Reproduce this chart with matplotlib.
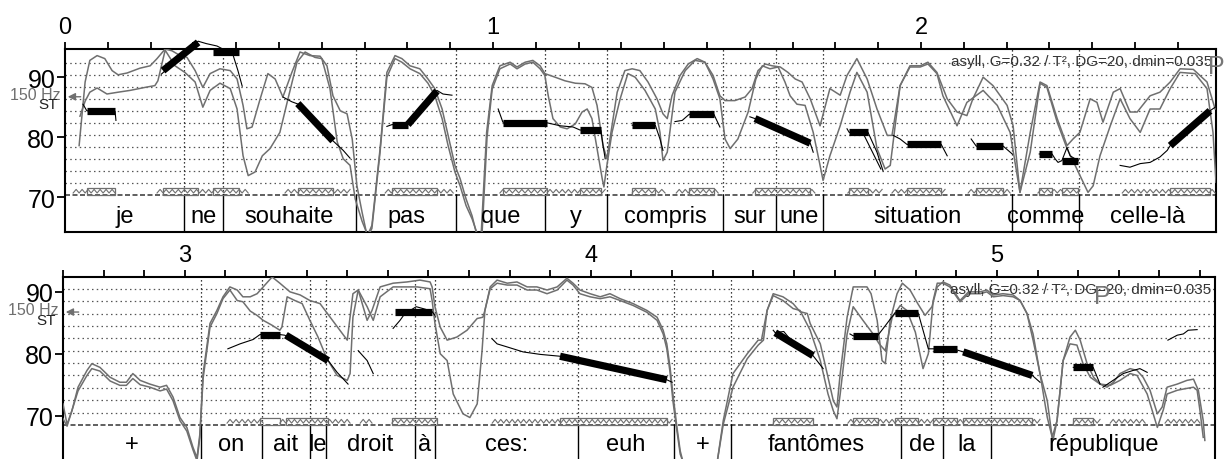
import numpy as np
import matplotlib
matplotlib.use("Agg")
import matplotlib.pyplot as plt
import matplotlib.transforms as mtransforms
from matplotlib.patches import Rectangle
from matplotlib.ticker import MultipleLocator

plt.rcParams["font.family"] = ["Liberation Sans", "DejaVu Sans"]

HZ150_ST = 86.74
INFO = "asyll, G=0.32 / T², DG=20, dmin=0.035"

# ---------------- panel 1 (0 - 2.69 s) ----------------
P1_XLIM = (0.0, 2.689)
P1_YLIM = (64.2, 94.7)
P1_YLOW = 70.4
P1_BOUNDS = [0.0, 0.278, 0.369, 0.680, 0.914, 1.121, 1.266, 1.537, 1.661,
             1.771, 2.213, 2.369, 2.689]
P1_WORDS = ["je", "ne", "souhaite", "pas", "que", "y", "compris", "sur",
            "une", "situation", "comme", "celle-là"]

P1_INT_A = [
    (0.033, 78.6), (0.047, 89.2), (0.058, 92.8), (0.075, 93.6), (0.093, 93.1),
    (0.110, 91.1), (0.124, 90.4), (0.145, 90.7), (0.175, 91.5), (0.199, 91.9),
    (0.215, 93.1), (0.234, 94.7), (0.250, 94.4), (0.269, 93.6), (0.285, 93.3),
    (0.304, 91.1), (0.322, 88.3), (0.339, 90.6), (0.362, 91.4), (0.386, 91.1),
    (0.402, 89.7), (0.416, 85.3), (0.425, 81.4), (0.437, 81.7), (0.456, 86.4),
    (0.474, 90.6), (0.491, 89.7), (0.509, 86.7), (0.530, 90.8), (0.549, 94.2),
    (0.572, 93.6), (0.596, 93.5), (0.612, 91.9), (0.626, 86.9), (0.643, 84.4),
    (0.659, 83.9), (0.671, 79.7), (0.682, 71.9), (0.694, 67.5), (0.706, 63.5),
    (0.717, 65.3), (0.736, 78.0), (0.752, 90.8), (0.771, 93.6), (0.787, 93.1),
    (0.806, 91.9), (0.829, 91.4), (0.848, 89.7), (0.864, 88.1), (0.881, 84.7),
    (0.895, 80.3), (0.911, 75.3), (0.923, 73.1), (0.937, 69.7), (0.951, 66.9),
    (0.963, 63.5), (0.972, 63.5), (0.985, 80.8), (0.998, 88.6), (1.016, 91.9),
    (1.040, 92.5), (1.056, 91.7), (1.075, 92.5), (1.093, 92.8), (1.110, 91.9),
    (1.121, 90.6), (1.145, 90.0), (1.168, 89.4), (1.192, 89.0), (1.215, 88.9),
    (1.231, 88.3), (1.243, 85.3), (1.257, 78.6), (1.266, 76.4), (1.278, 81.9),
    (1.290, 87.5), (1.308, 91.1), (1.325, 91.4), (1.343, 91.1), (1.362, 89.2),
    (1.383, 86.4), (1.397, 83.9), (1.407, 83.1), (1.418, 86.9), (1.437, 90.3),
    (1.456, 92.2), (1.477, 93.1), (1.495, 92.5), (1.514, 90.3), (1.530, 86.9),
    (1.542, 86.1), (1.565, 86.1), (1.589, 86.7), (1.605, 88.1), (1.619, 91.1),
    (1.636, 92.2), (1.652, 91.9), (1.671, 91.7), (1.689, 90.8), (1.706, 89.7),
    (1.722, 89.2), (1.741, 86.4), (1.764, 81.9), (1.787, 88.1), (1.811, 87.0),
    (1.827, 90.3), (1.850, 93.1), (1.874, 89.7), (1.897, 84.7), (1.921, 80.3),
    (1.932, 80.3), (1.951, 88.6), (1.974, 91.9), (1.998, 91.9), (2.016, 92.5),
    (2.037, 90.8), (2.061, 86.4), (2.084, 84.2), (2.107, 83.6), (2.121, 86.4),
    (2.145, 90.0), (2.168, 88.6), (2.201, 85.3), (2.215, 81.9), (2.231, 70.8),
    (2.255, 80.8), (2.278, 89.2), (2.294, 88.6), (2.318, 83.1), (2.341, 78.6),
    (2.355, 79.7), (2.371, 80.8), (2.395, 86.4), (2.411, 85.8), (2.425, 82.5),
    (2.449, 87.5), (2.465, 88.1), (2.488, 84.2), (2.505, 84.2), (2.535, 86.9),
    (2.558, 87.5), (2.582, 89.2), (2.605, 91.4), (2.636, 91.3), (2.668, 89.2),
    (2.687, 84.7),
]
P1_INT_B = [
    (0.035, 83.5), (0.047, 86.0), (0.058, 87.5), (0.075, 88.2), (0.098, 87.2),
    (0.124, 87.5), (0.152, 87.8), (0.187, 88.3), (0.210, 88.6), (0.217, 89.4),
    (0.234, 94.5), (0.257, 91.9), (0.280, 90.8), (0.304, 89.2), (0.322, 85.0),
    (0.339, 87.8), (0.362, 89.0), (0.386, 88.1), (0.402, 84.7), (0.416, 76.9),
    (0.428, 73.6), (0.444, 74.2), (0.461, 76.9), (0.479, 78.1), (0.502, 80.8),
    (0.521, 86.4), (0.542, 92.5), (0.561, 94.2), (0.584, 93.3), (0.600, 93.1),
    (0.619, 88.1), (0.636, 79.2), (0.650, 76.4), (0.666, 75.3), (0.678, 69.7),
    (0.694, 66.0), (0.708, 63.5), (0.717, 64.8), (0.736, 77.5), (0.752, 90.0),
    (0.771, 93.1), (0.787, 92.5), (0.806, 91.4), (0.829, 90.6), (0.848, 89.0),
    (0.864, 86.9), (0.881, 83.1), (0.895, 78.6), (0.911, 74.2), (0.923, 71.9),
    (0.937, 68.6), (0.951, 66.4), (0.965, 63.5), (0.974, 63.5), (0.986, 80.0),
    (0.998, 88.0), (1.016, 91.4), (1.040, 92.2), (1.056, 91.4), (1.075, 92.2),
    (1.093, 92.5), (1.110, 91.4), (1.121, 90.3), (1.129, 86.9), (1.140, 83.1),
    (1.157, 81.7), (1.173, 81.4), (1.192, 82.2), (1.208, 84.2), (1.220, 84.7),
    (1.231, 83.1), (1.243, 78.1), (1.255, 73.1), (1.259, 71.7), (1.266, 75.3),
    (1.278, 80.8), (1.297, 86.4), (1.315, 90.6), (1.332, 90.0), (1.355, 87.8),
    (1.379, 84.7), (1.390, 80.8), (1.397, 76.1), (1.407, 77.5), (1.425, 87.5),
    (1.449, 91.1), (1.472, 92.8), (1.495, 92.5), (1.514, 89.7), (1.530, 86.4),
    (1.542, 79.7), (1.554, 78.1), (1.572, 79.7), (1.596, 84.2), (1.614, 89.7),
    (1.629, 91.9), (1.647, 91.4), (1.666, 91.7), (1.682, 89.2), (1.694, 86.9),
    (1.710, 85.5), (1.729, 85.3), (1.748, 80.8), (1.764, 75.3), (1.771, 72.8),
    (1.787, 76.9), (1.811, 81.9), (1.834, 87.5), (1.850, 90.8), (1.874, 87.5),
    (1.897, 78.1), (1.916, 74.7), (1.928, 75.3), (1.951, 88.6), (1.974, 91.7),
    (1.998, 91.7), (2.016, 92.2), (2.037, 90.6), (2.051, 86.9), (2.084, 81.9),
    (2.107, 85.8), (2.145, 87.8), (2.178, 85.3), (2.208, 80.8), (2.231, 70.8),
    (2.255, 77.5), (2.278, 89.0), (2.294, 88.3), (2.318, 82.5), (2.341, 78.1),
    (2.364, 74.7), (2.390, 70.8), (2.402, 71.9), (2.418, 76.9), (2.442, 81.9),
    (2.465, 86.4), (2.488, 83.1), (2.512, 80.8), (2.535, 84.7), (2.558, 84.7),
    (2.582, 88.1), (2.605, 90.8), (2.640, 90.6), (2.668, 88.1), (2.682, 80.8),
    (2.689, 72.5),
]
P1_PITCH = [
    [(0.042, 85.5), (0.051, 84.4), (0.117, 84.3), (0.119, 82.8)],
    [(0.225, 90.5), (0.311, 96.0), (0.330, 95.6), (0.355, 95.2), (0.374, 94.5),
     (0.393, 93.6), (0.404, 91.1), (0.414, 88.5)],
    [(0.509, 86.7), (0.530, 85.9), (0.549, 85.4), (0.626, 79.4), (0.650, 77.8),
     (0.666, 76.5)],
    [(0.752, 81.8), (0.764, 82.1), (0.801, 82.1), (0.869, 87.8), (0.883, 87.2),
     (0.904, 87.0)],
    [(1.012, 84.7), (1.023, 82.5), (1.126, 82.4), (1.157, 81.9), (1.187, 81.7),
     (1.203, 81.2), (1.252, 81.1), (1.257, 78.6), (1.262, 76.4)],
    [(1.325, 82.0), (1.379, 82.0), (1.390, 79.7), (1.397, 77.8)],
    [(1.425, 82.6), (1.442, 82.8), (1.458, 83.8), (1.516, 83.8), (1.530, 81.7)],
    [(1.600, 83.4), (1.612, 83.1), (1.741, 79.0), (1.748, 77.5)],
    [(1.827, 81.4), (1.832, 80.8), (1.876, 80.8), (1.897, 77.5), (1.911, 74.4)],
    [(1.867, 80.3), (1.906, 74.7)],
    [(1.935, 80.3), (1.951, 79.7), (1.967, 78.8), (2.047, 78.8), (2.061, 76.9)],
    [(2.117, 79.7), (2.129, 78.5), (2.192, 78.5), (2.213, 77.2)],
    [(2.276, 77.2), (2.306, 77.2), (2.313, 76.4), (2.320, 75.8), (2.329, 76.1),
     (2.341, 78.3), (2.348, 76.9), (2.367, 76.1)],
    [(2.465, 75.3), (2.488, 75.0), (2.512, 75.6), (2.535, 75.8), (2.558, 76.7),
     (2.575, 77.8), (2.582, 78.6), (2.675, 84.4), (2.687, 85.0)],
]
# stylized tones: start time, end time, start ST, end ST
P1_TONES = [
    (0.051, 0.117, 84.3, 84.3), (0.229, 0.311, 91.1, 95.8),
    (0.346, 0.407, 94.2, 94.2), (0.544, 0.626, 85.6, 79.4),
    (0.764, 0.801, 82.1, 82.1), (0.801, 0.869, 82.1, 87.7),
    (1.023, 1.126, 82.4, 82.4), (1.203, 1.252, 81.2, 81.2),
    (1.325, 1.379, 82.0, 82.0), (1.458, 1.516, 83.8, 83.8),
    (1.612, 1.741, 83.1, 79.0), (1.832, 1.876, 80.8, 80.8),
    (1.967, 2.047, 78.8, 78.8), (2.129, 2.192, 78.5, 78.5),
    (2.276, 2.306, 77.2, 77.2), (2.329, 2.367, 76.1, 76.1),
    (2.582, 2.675, 78.6, 84.4),
]
P1_VOICED = [
    (0.019, 0.117), (0.215, 0.428), (0.514, 0.666), (0.748, 0.907),
    (1.016, 1.126), (1.126, 1.262), (1.325, 1.402), (1.428, 1.526),
    (1.607, 1.752), (1.829, 1.909), (1.932, 2.056), (2.110, 2.208),
    (2.273, 2.371), (2.470, 2.687),
]
P1_NUCLEI = [
    (0.051, 0.117), (0.229, 0.311), (0.346, 0.407), (0.544, 0.626),
    (0.764, 0.869), (1.023, 1.126), (1.203, 1.252), (1.325, 1.379),
    (1.458, 1.516), (1.612, 1.741), (1.832, 1.876), (1.967, 2.047),
    (2.129, 2.192), (2.276, 2.306), (2.329, 2.367), (2.582, 2.675),
]

# ---------------- panel 2 (2.7 - 5.54 s) ----------------
P2_XLIM = (2.7, 5.537)
P2_YLIM = (63.0, 92.4)
P2_YLOW = 68.5
P2_BOUNDS = [2.700, 3.040, 3.190, 3.308, 3.348, 3.567, 3.616, 3.968, 4.205,
             4.345, 4.764, 4.867, 4.986, 5.537]
P2_WORDS = ["+", "on", "ait", "le", "droit", "à", "ces:", "euh", "+",
            "fantômes", "de", "la", "république"]

P2_INT_A = [
    (2.700, 71.9), (2.710, 68.6), (2.722, 70.8), (2.737, 74.6), (2.759, 77.3),
    (2.771, 78.4), (2.791, 77.8), (2.816, 76.2), (2.840, 75.4), (2.856, 75.4),
    (2.872, 76.8), (2.890, 75.7), (2.914, 75.1), (2.939, 74.6), (2.955, 74.9),
    (2.971, 73.0), (2.988, 69.7), (3.005, 68.1), (3.020, 64.9), (3.030, 63.2),
    (3.037, 67.0), (3.045, 76.8), (3.062, 84.9), (3.079, 87.0), (3.094, 89.2),
    (3.111, 90.8), (3.129, 90.3), (3.143, 89.2), (3.161, 89.2), (3.178, 89.7),
    (3.193, 90.8), (3.215, 92.4), (3.234, 91.4), (3.259, 90.0), (3.284, 89.5),
    (3.308, 88.6), (3.333, 88.1), (3.358, 85.9), (3.382, 83.8), (3.400, 82.2),
    (3.407, 85.9), (3.414, 89.7), (3.427, 90.3), (3.449, 85.4), (3.461, 87.0),
    (3.481, 90.8), (3.513, 91.4), (3.547, 91.6), (3.579, 91.9), (3.604, 91.6),
    (3.609, 90.8), (3.616, 87.6), (3.629, 84.3), (3.646, 82.2), (3.670, 82.7),
    (3.695, 83.8), (3.720, 85.7), (3.734, 85.9), (3.739, 87.0), (3.752, 90.8),
    (3.769, 91.9), (3.794, 91.4), (3.818, 91.6), (3.843, 90.8), (3.867, 90.8),
    (3.892, 90.3), (3.917, 90.8), (3.941, 92.2), (3.956, 91.4), (3.973, 90.3),
    (3.998, 89.7), (4.023, 89.2), (4.047, 89.7), (4.072, 88.9), (4.104, 88.1),
    (4.138, 87.0), (4.163, 85.9), (4.178, 83.8), (4.187, 81.6), (4.195, 77.8),
    (4.202, 73.5), (4.212, 68.1), (4.220, 64.3), (4.227, 62.5), (4.311, 62.5),
    (4.326, 69.2), (4.350, 76.8), (4.385, 80.0), (4.412, 82.2), (4.420, 82.2),
    (4.434, 87.0), (4.449, 89.7), (4.473, 89.2), (4.498, 88.1), (4.515, 86.8),
    (4.533, 86.5), (4.540, 84.9), (4.565, 81.6), (4.584, 76.2), (4.597, 72.4),
    (4.606, 71.4), (4.614, 76.8), (4.631, 85.9), (4.646, 90.8), (4.680, 90.8),
    (4.690, 89.7), (4.705, 85.4), (4.717, 78.9), (4.725, 78.4), (4.737, 85.4),
    (4.754, 89.7), (4.767, 91.4), (4.786, 90.3), (4.805, 88.1), (4.823, 86.2),
    (4.840, 87.6), (4.853, 90.8), (4.867, 91.6), (4.884, 91.1), (4.909, 88.6),
    (4.930, 90.0), (4.959, 90.0), (4.975, 90.3), (4.991, 89.5), (5.015, 89.7),
    (5.040, 89.5), (5.057, 88.6), (5.074, 86.5), (5.089, 82.2), (5.106, 76.8),
    (5.124, 72.4), (5.136, 66.5), (5.148, 69.2), (5.163, 78.9), (5.180, 82.7),
    (5.193, 83.8), (5.205, 82.2), (5.222, 78.4), (5.238, 76.2), (5.254, 75.1),
    (5.271, 74.6), (5.287, 75.4), (5.303, 76.8), (5.328, 77.6), (5.345, 77.3),
    (5.360, 76.2), (5.377, 74.1), (5.395, 70.3), (5.407, 71.4), (5.419, 74.6),
    (5.444, 75.1), (5.468, 75.7), (5.484, 75.9), (5.496, 74.1), (5.508, 69.2),
    (5.512, 66.0),
]
P2_INT_B = [
    (2.700, 69.5), (2.710, 68.3), (2.737, 74.0), (2.759, 76.5), (2.771, 77.6),
    (2.791, 77.2), (2.816, 75.6), (2.840, 74.9), (2.856, 74.9), (2.872, 76.0),
    (2.890, 75.0), (2.914, 74.6), (2.939, 74.0), (2.955, 74.3), (2.971, 72.4),
    (2.988, 69.2), (3.005, 67.5), (3.020, 64.5), (3.030, 62.7), (3.037, 66.5),
    (3.045, 76.0), (3.062, 84.3), (3.079, 86.5), (3.094, 88.9), (3.111, 90.3),
    (3.129, 88.6), (3.143, 88.4), (3.161, 86.9), (3.178, 86.2), (3.193, 85.4),
    (3.215, 84.6), (3.234, 83.8), (3.239, 84.3), (3.252, 89.2), (3.271, 88.6),
    (3.289, 88.1), (3.308, 85.4), (3.328, 82.7), (3.350, 79.2), (3.375, 76.5),
    (3.400, 75.7), (3.407, 76.8), (3.414, 85.9), (3.427, 90.3), (3.449, 87.6),
    (3.464, 85.4), (3.481, 89.2), (3.513, 90.8), (3.547, 90.8), (3.572, 90.8),
    (3.604, 90.5), (3.609, 88.6), (3.616, 84.9), (3.629, 80.0), (3.646, 78.9),
    (3.661, 73.5), (3.685, 70.3), (3.702, 69.7), (3.720, 71.9), (3.732, 80.5),
    (3.739, 87.0), (3.752, 90.5), (3.769, 91.4), (3.794, 91.1), (3.818, 91.1),
    (3.843, 90.3), (3.867, 90.3), (3.892, 89.7), (3.917, 90.3), (3.941, 91.9),
    (3.956, 91.1), (3.973, 89.7), (3.998, 89.2), (4.023, 88.9), (4.047, 89.2),
    (4.072, 88.6), (4.104, 87.8), (4.138, 86.7), (4.163, 85.4), (4.178, 83.2),
    (4.187, 80.8), (4.195, 77.0), (4.202, 72.4), (4.212, 67.5), (4.220, 63.8),
    (4.227, 62.5), (4.311, 62.5), (4.326, 68.6), (4.350, 74.6), (4.385, 79.2),
    (4.412, 81.4), (4.425, 82.2), (4.434, 87.0), (4.449, 89.4), (4.473, 88.6),
    (4.498, 87.3), (4.515, 87.0), (4.540, 83.8), (4.565, 78.9), (4.584, 73.5),
    (4.597, 70.8), (4.606, 69.5), (4.614, 73.5), (4.631, 83.2), (4.646, 87.6),
    (4.670, 85.4), (4.695, 83.2), (4.710, 81.6), (4.725, 80.5), (4.742, 85.9),
    (4.762, 87.8), (4.778, 87.0), (4.799, 83.5), (4.818, 77.6), (4.831, 80.0),
    (4.843, 88.6), (4.853, 91.4), (4.867, 91.4), (4.884, 90.8), (4.909, 88.4),
    (4.930, 89.7), (4.959, 89.7), (4.975, 90.0), (4.991, 89.2), (5.015, 89.4),
    (5.040, 89.2), (5.057, 88.6), (5.074, 86.5), (5.089, 83.2), (5.106, 76.8),
    (5.124, 69.7), (5.138, 66.0), (5.148, 69.2), (5.163, 78.9), (5.180, 81.6),
    (5.197, 81.4), (5.212, 78.4), (5.230, 76.2), (5.254, 75.1), (5.279, 74.9),
    (5.303, 75.7), (5.328, 76.8), (5.345, 76.5), (5.370, 73.5), (5.395, 68.1),
    (5.410, 71.0), (5.419, 73.5), (5.444, 74.1), (5.459, 74.3), (5.484, 74.6),
    (5.493, 74.1), (5.500, 70.8), (5.508, 66.5),
]
P2_PITCH = [
    [(3.106, 80.8), (3.136, 81.6), (3.168, 82.3), (3.185, 83.1), (3.234, 83.1),
     (3.246, 83.0), (3.353, 78.9), (3.375, 77.0), (3.402, 75.1)],
    [(3.427, 80.5), (3.449, 78.9), (3.464, 76.8)],
    [(3.513, 84.1), (3.530, 85.4), (3.542, 86.5), (3.555, 87.0), (3.570, 87.6),
     (3.592, 87.2), (3.609, 86.8), (3.616, 86.2)],
    [(3.757, 82.4), (3.769, 81.6), (3.794, 81.1), (3.833, 80.3), (3.875, 79.9),
     (3.924, 79.6), (4.187, 75.8), (4.200, 75.4)],
    [(4.449, 83.8), (4.454, 83.4), (4.475, 83.6), (4.490, 82.4), (4.547, 79.7),
     (4.572, 77.6)],
    [(4.638, 83.2), (4.646, 82.9), (4.707, 83.0), (4.720, 84.1), (4.749, 86.6),
     (4.806, 86.6), (4.818, 83.8), (4.831, 80.8), (4.843, 80.8), (4.902, 80.6),
     (4.917, 80.3), (5.087, 76.5), (5.106, 75.4)],
    [(5.188, 77.8), (5.237, 77.8), (5.247, 76.2), (5.254, 75.1)],
    [(5.261, 74.6), (5.286, 75.7), (5.311, 76.8), (5.335, 77.3), (5.352, 77.6),
     (5.370, 77.0)],
    [(5.421, 82.2), (5.444, 83.0), (5.459, 83.2), (5.471, 83.8), (5.493, 83.9)],
]
P2_TONES = [
    (3.185, 3.234, 83.1, 83.1), (3.249, 3.353, 83.0, 78.9),
    (3.518, 3.609, 86.8, 86.8), (3.924, 4.187, 79.6, 75.8),
    (4.454, 4.547, 83.4, 79.7), (4.646, 4.707, 82.9, 82.9),
    (4.749, 4.806, 86.6, 86.6), (4.843, 4.902, 80.8, 80.8),
    (4.917, 5.087, 80.3, 76.5), (5.188, 5.237, 77.8, 77.8),
]
P2_VOICED = [
    (3.104, 3.193), (3.234, 3.407), (3.432, 3.461), (3.510, 3.621),
    (3.757, 4.200), (4.449, 4.547), (4.633, 4.749), (4.749, 4.843),
    (4.843, 4.917), (4.917, 5.106), (5.188, 5.254), (5.279, 5.365),
    (5.414, 5.500),
]
P2_NUCLEI = [
    (3.185, 3.234), (3.249, 3.353), (3.510, 3.621), (3.924, 4.187),
    (4.449, 4.547), (4.646, 4.707), (4.749, 4.806), (4.843, 4.902),
    (4.917, 5.087), (5.188, 5.237),
]

GRAY = "#6f6f6f"
BIG = 17


def zigzag(ax, start, end, base):
    """Kleine Zickzacklinie als Markierung eines stimmhaften Bereichs."""
    n = max(int((end - start) / 0.007), 2)
    t = np.linspace(start, end, n + 1)
    y = np.where(np.arange(n + 1) % 2 == 0, base + 0.3, base + 0.9)
    ax.plot(t, y, color=GRAY, lw=0.8, zorder=3)


def draw_panel(ax, xlim, ylim, ylow, bounds, words, int_a, int_b,
               pitch, tones, voiced, nuclei, word_y, p_pos):
    ax.set_xlim(*xlim)
    ax.set_ylim(*ylim)
    blend = mtransforms.blended_transform_factory(ax.transAxes, ax.transData)

    # horizontal grid every 2 ST above the tier
    for g in np.arange(ylow + 2, ylim[1] - 0.8, 2):
        ax.axhline(g, color="#555555", lw=0.9, ls=(0, (1.2, 2.6)), zorder=1)
    ax.axhline(ylow, color="#444444", lw=1.2, ls=(0, (3, 1.5)), zorder=2)

    # word boundaries
    for b in bounds[1:-1]:
        ax.plot([b, b], [ylow, ylim[1]], color="black", lw=0.9,
                ls=(0, (1, 2.2)), zorder=2)
        ax.plot([b, b], [ylim[0], ylow], color="black", lw=1.0, zorder=2)
    for left, right, word in zip(bounds[:-1], bounds[1:], words):
        ax.text((left + right) / 2, word_y, word, ha="center", va="center",
                fontsize=BIG, zorder=6)

    # intensity curves
    for curve in (int_a, int_b):
        arr = np.array(curve)
        ax.plot(arr[:, 0], arr[:, 1], color=GRAY, lw=1.1, zorder=3)

    # voiced stretches and nuclei
    for start, end in voiced:
        zigzag(ax, start, end, ylow)
    for start, end in nuclei:
        ax.add_patch(Rectangle((start, ylow), end - start, 1.05, fill=False,
                               edgecolor=GRAY, lw=0.9, zorder=3))

    # pitch and stylization
    for seg in pitch:
        arr = np.array(seg)
        ax.plot(arr[:, 0], arr[:, 1], color="black", lw=0.8, zorder=4,
                clip_on=False)
    for t0, t1, s0, s1 in tones:
        ax.plot([t0, t1], [s0, s1], color="black", lw=5.2,
                solid_capstyle="butt", zorder=5, clip_on=False)

    # 150 Hz marker
    ax.annotate("", xy=(0.0, HZ150_ST), xytext=(0.016, HZ150_ST),
                xycoords=blend, textcoords=blend, annotation_clip=False,
                arrowprops={"arrowstyle": "-|>", "color": GRAY, "lw": 1.0,
                            "mutation_scale": 11})
    ax.text(-0.004, HZ150_ST + 0.35, "150 Hz", transform=blend, ha="right",
            va="center", fontsize=11.5, color=GRAY)
    ax.text(-0.006, HZ150_ST - 1.25, "ST", transform=blend, ha="right",
            va="center", fontsize=11, color="#222222")

    ax.text(0.9965, ylim[1] - 2.0, INFO, transform=blend, ha="right",
            va="center", fontsize=11, color="#333333", zorder=6)
    ax.text(p_pos[0], p_pos[1], "P", transform=blend, ha="center",
            va="center", fontsize=18, color="#777777", zorder=6,
            clip_on=False)

    # axes styling
    ax.xaxis.set_major_locator(MultipleLocator(1))
    ax.xaxis.set_minor_locator(MultipleLocator(0.1))
    ax.xaxis.set_major_formatter(lambda v, pos: f"{v:.0f}")
    ax.tick_params(axis="x", which="both", top=True, bottom=False,
                   labeltop=True, labelbottom=False, direction="out",
                   length=5, width=1.3, pad=3, labelsize=BIG)
    ax.set_yticks([70, 80, 90])
    ax.tick_params(axis="y", direction="out", length=6, width=1.3, pad=1,
                   labelsize=18)
    for spine in ax.spines.values():
        spine.set_linewidth(1.5)


fig = plt.figure(figsize=(12.24, 4.6), dpi=100)
ax_top = fig.add_axes([65 / 1224, 1 - 233 / 460, 1151 / 1224, 183 / 460])
ax_bot = fig.add_axes([63 / 1224, 0.0, 1152 / 1224, 182 / 460])

draw_panel(ax_top, P1_XLIM, P1_YLIM, P1_YLOW, P1_BOUNDS, P1_WORDS,
           P1_INT_A, P1_INT_B, P1_PITCH, P1_TONES, P1_VOICED, P1_NUCLEI,
           word_y=66.9, p_pos=(1.0, 91.9))
draw_panel(ax_bot, P2_XLIM, P2_YLIM, P2_YLOW, P2_BOUNDS, P2_WORDS,
           P2_INT_A, P2_INT_B, P2_PITCH, P2_TONES, P2_VOICED, P2_NUCLEI,
           word_y=65.4, p_pos=(0.902, 89.4))
ax_bot.spines["bottom"].set_visible(False)

fig.savefig("out.png", dpi=100)
